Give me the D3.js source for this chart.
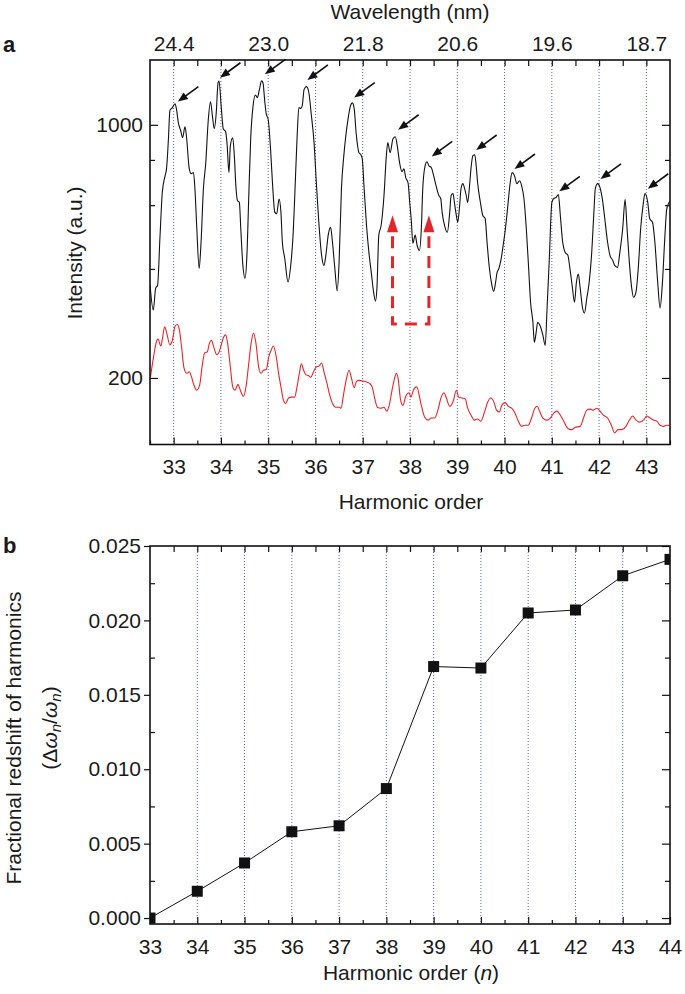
<!DOCTYPE html>
<html><head><meta charset="utf-8">
<script src="https://cdn.jsdelivr.net/npm/d3@7"></script>
<style>
body{margin:0;background:#fff}
svg{display:block}
text{font-family:"Liberation Sans",Arial,Helvetica,sans-serif;fill:#1a1a1a}
</style>
</head><body>
<svg id="c" width="685" height="994"></svg>
<script>
// ---------------- DATA ----------------
const harmonicTicks = [33,34,35,36,37,38,39,40,41,42,43];
const wavelengthHarmonics = [33,35,37,39,41,43];
const wavelengthLabels = ["24.4","23.0","21.8","20.6","19.6","18.7"];
const intensityTicks = [200,1000];
const intensityMinorTicks = [400,600,800];

// black spectrum: [harmonic order, intensity]
const blackSpectrum = [[32.50,362],[32.57,308],[32.62,354],[32.66,360],[32.71,487],[32.76,650],[32.82,724],[32.85,757],[32.89,915],[32.92,1093],[32.97,1114],[33.03,1143],[33.06,1105],[33.10,1013],[33.15,963],[33.19,921],[33.24,988],[33.27,933],[33.33,757],[33.37,733],[33.42,738],[33.45,667],[33.49,518],[33.54,401],[33.58,474],[33.63,667],[33.68,786],[33.73,1020],[33.78,1157],[33.82,1059],[33.86,975],[33.90,1073],[33.94,1308],[33.96,1320],[34.01,1107],[34.05,975],[34.10,957],[34.13,887],[34.17,738],[34.20,876],[34.25,921],[34.28,838],[34.32,667],[34.35,618],[34.39,611],[34.42,518],[34.46,417],[34.51,377],[34.55,436],[34.59,638],[34.63,915],[34.68,1128],[34.73,1209],[34.77,1189],[34.81,1244],[34.86,1322],[34.89,1305],[34.93,1152],[34.96,1070],[35.00,1036],[35.05,858],[35.09,694],[35.14,574],[35.18,568],[35.23,624],[35.27,573],[35.30,474],[35.35,428],[35.42,368],[35.47,401],[35.53,506],[35.56,626],[35.61,913],[35.65,1116],[35.69,1110],[35.72,1128],[35.76,1253],[35.81,1275],[35.86,1228],[35.91,1073],[35.97,894],[36.02,688],[36.07,541],[36.13,436],[36.18,409],[36.22,436],[36.27,496],[36.32,521],[36.36,474],[36.41,401],[36.46,348],[36.50,417],[36.55,667],[36.60,822],[36.64,927],[36.69,1039],[36.74,1128],[36.78,1150],[36.82,1107],[36.86,951],[36.92,838],[36.96,827],[36.99,806],[37.03,667],[37.08,528],[37.13,445],[37.18,392],[37.23,345],[37.27,326],[37.30,353],[37.34,496],[37.39,528],[37.45,638],[37.50,822],[37.53,894],[37.58,838],[37.64,915],[37.69,927],[37.73,876],[37.78,786],[37.83,743],[37.87,756],[37.91,715],[37.96,690],[37.99,620],[38.03,538],[38.06,471],[38.11,496],[38.15,465],[38.20,450],[38.24,518],[38.27,667],[38.32,771],[38.36,791],[38.40,771],[38.45,762],[38.50,724],[38.55,680],[38.61,638],[38.65,626],[38.68,573],[38.73,528],[38.79,505],[38.84,573],[38.87,638],[38.91,646],[38.94,610],[38.98,562],[39.01,538],[39.05,599],[39.08,667],[39.12,688],[39.15,671],[39.19,638],[39.22,610],[39.26,680],[39.29,757],[39.33,822],[39.37,827],[39.40,771],[39.43,693],[39.49,610],[39.54,562],[39.59,551],[39.63,474],[39.68,401],[39.73,362],[39.77,347],[39.81,367],[39.84,390],[39.88,401],[39.93,428],[39.98,474],[40.02,518],[40.07,599],[40.12,693],[40.16,738],[40.21,724],[40.26,688],[40.32,701],[40.36,680],[40.41,626],[40.46,518],[40.51,401],[40.55,324],[40.60,285],[40.63,251],[40.67,268],[40.70,285],[40.75,279],[40.81,263],[40.86,246],[40.90,312],[40.95,436],[41.00,610],[41.04,626],[41.09,630],[41.14,642],[41.18,562],[41.23,474],[41.28,445],[41.34,436],[41.38,404],[41.43,360],[41.48,324],[41.52,367],[41.56,387],[41.60,354],[41.65,312],[41.69,302],[41.74,332],[41.79,367],[41.84,436],[41.89,573],[41.92,667],[41.97,688],[42.02,671],[42.08,610],[42.12,551],[42.18,474],[42.23,436],[42.29,422],[42.33,409],[42.39,404],[42.44,445],[42.50,518],[42.55,622],[42.59,521],[42.64,417],[42.69,354],[42.73,334],[42.78,345],[42.83,404],[42.88,518],[42.93,599],[42.97,646],[43.03,610],[43.07,551],[43.13,538],[43.18,474],[43.24,367],[43.29,312],[43.34,367],[43.39,487],[43.43,584],[43.48,610],[43.50,615]];

// red spectrum: [harmonic order, intensity]
const redSpectrum = [[32.51,201],[32.58,231],[32.64,253],[32.67,256],[32.73,245],[32.77,260],[32.81,277],[32.86,264],[32.92,247],[32.97,253],[33.03,278],[33.08,281],[33.12,272],[33.17,242],[33.22,213],[33.28,206],[33.33,208],[33.38,201],[33.43,191],[33.49,185],[33.55,191],[33.60,214],[33.66,235],[33.71,236],[33.76,250],[33.80,254],[33.85,243],[33.91,232],[33.95,234],[34.00,245],[34.06,260],[34.10,263],[34.14,250],[34.20,214],[34.25,189],[34.30,185],[34.36,192],[34.41,185],[34.48,178],[34.53,189],[34.58,214],[34.64,250],[34.69,266],[34.74,250],[34.80,214],[34.85,206],[34.90,210],[34.96,211],[35.01,228],[35.07,240],[35.11,245],[35.17,229],[35.22,206],[35.27,189],[35.32,174],[35.37,170],[35.43,176],[35.50,177],[35.56,177],[35.61,189],[35.66,206],[35.70,219],[35.75,210],[35.80,204],[35.85,203],[35.90,201],[35.96,208],[36.01,214],[36.08,216],[36.13,220],[36.18,208],[36.24,194],[36.29,182],[36.36,170],[36.43,166],[36.50,166],[36.54,165],[36.60,182],[36.66,200],[36.71,210],[36.76,200],[36.82,188],[36.87,196],[36.92,197],[37.01,196],[37.08,195],[37.15,193],[37.20,189],[37.26,174],[37.31,166],[37.38,165],[37.45,166],[37.51,162],[37.56,168],[37.62,185],[37.68,201],[37.71,206],[37.75,199],[37.80,174],[37.85,168],[37.91,178],[37.98,182],[38.02,177],[38.07,185],[38.14,189],[38.24,168],[38.31,156],[38.38,153],[38.45,155],[38.52,155],[38.59,163],[38.66,177],[38.72,182],[38.77,176],[38.84,167],[38.91,172],[38.98,185],[39.03,177],[39.10,176],[39.17,175],[39.22,165],[39.29,158],[39.36,153],[39.43,154],[39.50,152],[39.57,160],[39.64,171],[39.71,176],[39.78,171],[39.83,163],[39.89,161],[39.94,168],[40.01,171],[40.08,167],[40.15,165],[40.22,160],[40.29,152],[40.36,147],[40.43,148],[40.50,148],[40.57,155],[40.64,165],[40.69,167],[40.74,162],[40.81,155],[40.90,153],[40.97,155],[41.04,160],[41.11,162],[41.18,158],[41.25,152],[41.32,146],[41.39,144],[41.42,144],[41.49,146],[41.60,147],[41.67,155],[41.74,163],[41.81,164],[41.88,163],[41.95,165],[42.02,162],[42.09,158],[42.18,155],[42.26,148],[42.33,141],[42.40,144],[42.48,144],[42.57,147],[42.64,153],[42.71,157],[42.78,153],[42.85,151],[42.94,153],[43.01,157],[43.08,155],[43.15,153],[43.22,152],[43.29,148],[43.36,147],[43.43,148],[43.49,148]];

// black arrow tips pointing at the harmonic peaks: [harmonic order, intensity]
const peakArrowTips = [[33.09,1159],[33.98,1349],[34.93,1379],[35.83,1330],[36.82,1189],[37.75,969],[38.46,818],[39.40,852],[40.21,755],[41.16,655],[42.03,709],[43.03,666]];

// red dashed arrows
const shiftArrowHarmonics = [37.63, 38.40];
const shiftArrowTipIntensity = 563;
const shiftArrowHeadBaseIntensity = 505;
const shiftArrowBottomIntensity = 282;

// panel b
const orders = [33,34,35,36,37,38,39,40,41,42,43,44];
const redshift = [0.0000,0.0018,0.0037,0.0058,0.0062,0.0087,0.0169,0.0168,0.0205,0.0207,0.0230,0.0241];
const redshiftTicks = [0,0.005,0.010,0.015,0.020,0.025];
const redshiftMinorTicks = [0.0025,0.0075,0.0125,0.0175,0.0225];

// ---------------- DRAW ----------------
const svg = d3.select("#c");
const INK = "#111";
const GRID = "#5566c4";
const RED = "#e3262b";
const FS = 21;
const defs = svg.append("defs");

function styleAxis(g){
  g.select(".domain").remove();
  g.selectAll(".tick line").attr("stroke",INK).attr("stroke-width",1.2);
  g.selectAll(".tick text").attr("font-size",FS).attr("fill","#1a1a1a")
    .attr("font-family",'"Liberation Sans",Arial,Helvetica,sans-serif');
  return g;
}
function halves(a,b){const r=[];for(let v=a;v<=b+1e-9;v+=0.5){if(Math.abs(v-Math.round(v))>0.1)r.push(v);}return r;}
function allHalves(a,b){const r=[];for(let v=a;v<=b+1e-9;v+=0.5)r.push(v);return r;}

// ===== Panel a =====
const A = {l:150, r:670, t:60, b:444.5};
const xa = d3.scaleLinear().domain([32.5,43.5]).range([A.l,A.r]);
const ya = d3.scaleLog().domain([131,1510]).range([A.b,A.t]);

defs.append("clipPath").attr("id","clipA").append("rect")
  .attr("x",A.l).attr("y",A.t).attr("width",A.r-A.l).attr("height",A.b-A.t);

const ga = svg.append("g");
ga.selectAll("line.grid").data(harmonicTicks).join("line").attr("class","grid")
  .attr("x1",d=>xa(d)).attr("x2",d=>xa(d)).attr("y1",A.t).attr("y2",A.b)
  .attr("stroke",GRID).attr("stroke-width",1).attr("stroke-dasharray","1,2");

const lineA = d3.line().x(d=>xa(d[0])).y(d=>ya(d[1])).curve(d3.curveMonotoneX);
ga.append("path").datum(redSpectrum).attr("d",lineA).attr("clip-path","url(#clipA)")
  .attr("fill","none").attr("stroke",RED).attr("stroke-width",1.1);
ga.append("path").datum(blackSpectrum).attr("d",lineA).attr("clip-path","url(#clipA)")
  .attr("fill","none").attr("stroke","#111").attr("stroke-width",1.1);

// black arrows
const arrowDX = 20.5, arrowDY = -15;
const aLen = Math.hypot(arrowDX,arrowDY);
const ux = arrowDX/aLen, uy = arrowDY/aLen, nx = -uy, ny = ux;
const HL = 10, HW = 4;
peakArrowTips.forEach(([h,I])=>{
  const tx = xa(h), ty = ya(I);
  ga.append("line").attr("x1",tx+ux*HL*0.8).attr("y1",ty+uy*HL*0.8)
    .attr("x2",tx+arrowDX).attr("y2",ty+arrowDY).attr("stroke","#111").attr("stroke-width",1.6);
  ga.append("path").attr("d",`M${tx},${ty}L${tx+ux*HL+nx*HW},${ty+uy*HL+ny*HW}L${tx+ux*HL-nx*HW},${ty+uy*HL-ny*HW}Z`)
    .attr("fill","#111");
});

// red dashed arrows
const rx0 = xa(shiftArrowHarmonics[0]), rx1 = xa(shiftArrowHarmonics[1]);
const rTip = ya(shiftArrowTipIntensity), rBase = ya(shiftArrowHeadBaseIntensity), rBot = ya(shiftArrowBottomIntensity);
ga.append("path").attr("d",`M${rx0},${rBase+4}L${rx0},${rBot}L${rx1},${rBot}L${rx1},${rBase+4}`)
  .attr("fill","none").attr("stroke",RED).attr("stroke-width",3).attr("stroke-dasharray","12,8");
[rx0,rx1].forEach(x=>{
  ga.append("path").attr("d",`M${x},${rTip}L${x+5.5},${rBase}L${x-5.5},${rBase}Z`).attr("fill",RED);
});

// axes panel a
styleAxis(ga.append("g").attr("transform",`translate(0,${A.b})`)
  .call(d3.axisBottom(xa).tickValues(harmonicTicks).tickFormat(d3.format("d")).tickSizeInner(-7).tickSizeOuter(0).tickPadding(15)));
styleAxis(ga.append("g").attr("transform",`translate(0,${A.b})`)
  .call(d3.axisBottom(xa).tickValues(halves(32.5,43.5)).tickFormat("").tickSizeInner(-4).tickSizeOuter(0)));
styleAxis(ga.append("g").attr("transform",`translate(0,${A.t})`)
  .call(d3.axisTop(xa).tickValues(wavelengthHarmonics).tickFormat((d,i)=>wavelengthLabels[i]).tickSizeInner(-6).tickSizeOuter(0).tickPadding(9)));
styleAxis(ga.append("g").attr("transform",`translate(0,${A.t})`)
  .call(d3.axisTop(xa).tickValues(allHalves(33,43).filter(v=>!wavelengthHarmonics.includes(v))).tickFormat("").tickSizeInner(-6).tickSizeOuter(0)));
styleAxis(ga.append("g").attr("transform",`translate(${A.l},0)`)
  .call(d3.axisLeft(ya).tickValues(intensityTicks).tickFormat(d3.format("d")).tickSizeInner(-8).tickSizeOuter(0).tickPadding(7)));
styleAxis(ga.append("g").attr("transform",`translate(${A.l},0)`)
  .call(d3.axisLeft(ya).tickValues(intensityMinorTicks).tickFormat("").tickSizeInner(-5).tickSizeOuter(0)));
styleAxis(ga.append("g").attr("transform",`translate(${A.r},0)`)
  .call(d3.axisRight(ya).tickValues(intensityTicks).tickFormat("").tickSizeInner(-8).tickSizeOuter(0)));
styleAxis(ga.append("g").attr("transform",`translate(${A.r},0)`)
  .call(d3.axisRight(ya).tickValues(intensityMinorTicks).tickFormat("").tickSizeInner(-5).tickSizeOuter(0)));
ga.append("rect").attr("x",A.l).attr("y",A.t).attr("width",A.r-A.l).attr("height",A.b-A.t)
  .attr("fill","none").attr("stroke",INK).attr("stroke-width",1.6);

svg.append("text").attr("x",3).attr("y",52).attr("font-size",22).attr("font-weight","bold").text("a");
svg.append("text").attr("x",410).attr("y",19).attr("text-anchor","middle").attr("font-size",FS).text("Wavelength (nm)");
svg.append("text").attr("x",411).attr("y",509).attr("text-anchor","middle").attr("font-size",FS).text("Harmonic order");
svg.append("text").attr("transform","translate(82,253) rotate(-90)").attr("text-anchor","middle").attr("font-size",FS).text("Intensity (a.u.)");

// ===== Panel b =====
const B = {l:150, r:670, t:546, b:924};
const xb = d3.scaleLinear().domain([33,44]).range([B.l,B.r]);
const yb = d3.scaleLinear().domain([-0.0004,0.025]).range([B.b,B.t]);
defs.append("clipPath").attr("id","clipB").append("rect")
  .attr("x",B.l).attr("y",B.t).attr("width",B.r-B.l).attr("height",B.b-B.t);

const gb = svg.append("g");
gb.selectAll("line.grid").data(orders.filter(d=>d>33&&d<44)).join("line").attr("class","grid")
  .attr("x1",d=>xb(d)).attr("x2",d=>xb(d)).attr("y1",B.t).attr("y2",B.b)
  .attr("stroke",GRID).attr("stroke-width",1).attr("stroke-dasharray","1,2");

const pts = orders.map((o,i)=>[o,redshift[i]]);
gb.append("path").datum(pts).attr("d",d3.line().x(d=>xb(d[0])).y(d=>yb(d[1])))
  .attr("fill","none").attr("stroke","#111").attr("stroke-width",1);
gb.append("g").attr("clip-path","url(#clipB)").selectAll("rect").data(pts).join("rect")
  .attr("x",d=>xb(d[0])-5.5).attr("y",d=>yb(d[1])-5.5).attr("width",11).attr("height",11).attr("fill","#111");

styleAxis(gb.append("g").attr("transform",`translate(0,${B.b})`)
  .call(d3.axisBottom(xb).tickValues(orders).tickFormat(d3.format("d")).tickSizeInner(-7).tickSizeOuter(0).tickPadding(15)));
styleAxis(gb.append("g").attr("transform",`translate(0,${B.b})`)
  .call(d3.axisBottom(xb).tickValues(halves(33,44)).tickFormat("").tickSizeInner(-4).tickSizeOuter(0)));
styleAxis(gb.append("g").attr("transform",`translate(0,${B.t})`)
  .call(d3.axisTop(xb).tickValues(allHalves(33.5,43.5)).tickFormat("").tickSizeInner(-6).tickSizeOuter(0)));
styleAxis(gb.append("g").attr("transform",`translate(${B.l},0)`)
  .call(d3.axisLeft(yb).tickValues(redshiftTicks).tickFormat(d3.format(".3f")).tickSizeInner(6).tickSizeOuter(0).tickPadding(3)));
styleAxis(gb.append("g").attr("transform",`translate(${B.l},0)`)
  .call(d3.axisLeft(yb).tickValues(redshiftMinorTicks).tickFormat("").tickSizeInner(-5).tickSizeOuter(0)));
styleAxis(gb.append("g").attr("transform",`translate(${B.r},0)`)
  .call(d3.axisRight(yb).tickValues(redshiftTicks).tickFormat("").tickSizeInner(-8).tickSizeOuter(0)));
styleAxis(gb.append("g").attr("transform",`translate(${B.r},0)`)
  .call(d3.axisRight(yb).tickValues(redshiftMinorTicks).tickFormat("").tickSizeInner(-5).tickSizeOuter(0)));
gb.append("rect").attr("x",B.l).attr("y",B.t).attr("width",B.r-B.l).attr("height",B.b-B.t)
  .attr("fill","none").attr("stroke",INK).attr("stroke-width",1.6);

svg.append("text").attr("x",3).attr("y",553).attr("font-size",22).attr("font-weight","bold").text("b");
const xt = svg.append("text").attr("x",411).attr("y",980).attr("text-anchor","middle").attr("font-size",FS);
xt.append("tspan").text("Harmonic order (");
xt.append("tspan").attr("font-style","italic").text("n");
xt.append("tspan").text(")");
svg.append("text").attr("transform","translate(21,738) rotate(-90)").attr("text-anchor","middle").attr("font-size",FS)
  .text("Fractional redshift of harmonics");
const yt = svg.append("text").attr("transform","translate(57,728) rotate(-90)").attr("text-anchor","middle").attr("font-size",FS);
yt.append("tspan").text("(\u0394");
yt.append("tspan").attr("font-style","italic").text("\u03C9");
yt.append("tspan").attr("font-style","italic").attr("font-size",15).attr("dy",4).text("n");
yt.append("tspan").attr("dy",-4).text("/");
yt.append("tspan").attr("font-style","italic").text("\u03C9");
yt.append("tspan").attr("font-style","italic").attr("font-size",15).attr("dy",4).text("n");
yt.append("tspan").attr("dy",-4).text(")");
</script>
</body></html>
